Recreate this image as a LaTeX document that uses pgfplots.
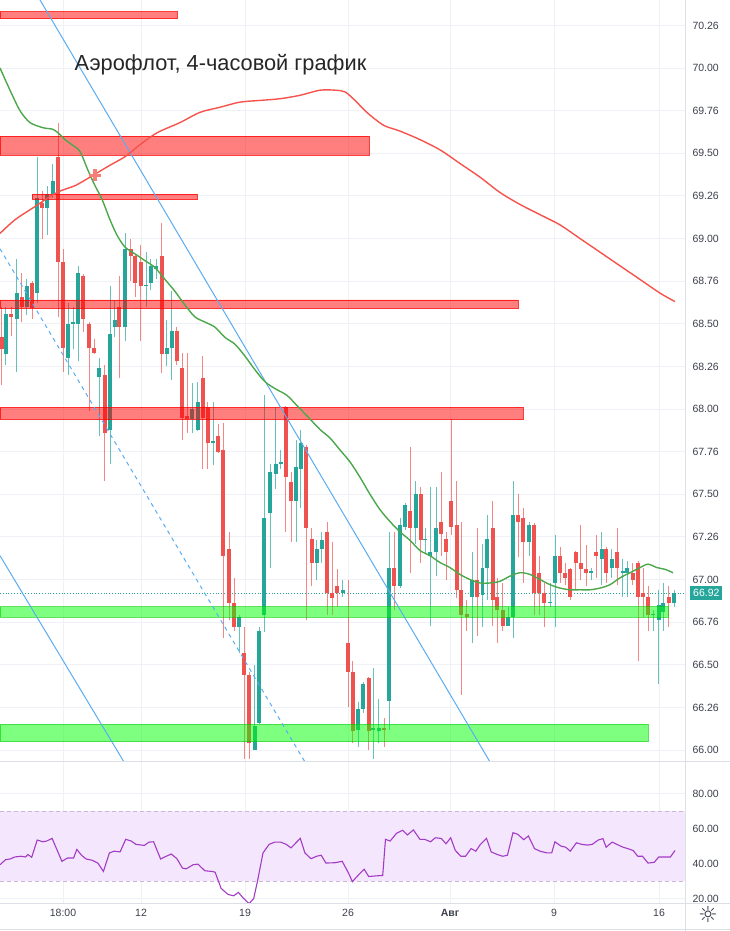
\documentclass[border=0pt]{standalone}
\usepackage{pgfplots}
\pgfplotsset{compat=1.18}
\usepackage{pgfplotstable}
\usepackage{fontspec}
\setmainfont{Liberation Sans}
\newfontfamily\symfont{DejaVu Sans}

\definecolor{upc}{HTML}{26A69A}
\definecolor{dnc}{HTML}{EF5350}
\definecolor{gridc}{HTML}{EEF1F6}
\definecolor{labc}{HTML}{3B3F4A}
\definecolor{sepc}{HTML}{DCDFE6}
\definecolor{blc}{HTML}{5AACF2}
\definecolor{mag}{HTML}{4CA84A}
\definecolor{mar}{HTML}{F5534B}
\definecolor{rsic}{HTML}{A33CC4}
\definecolor{rsib}{HTML}{F3E6FD}
\definecolor{rsid}{HTML}{C9B6D8}

% 4h candles, x = pixel column of the candle
\pgfplotstableread{
x o h l c
5.7 68.32 68.60 68.26 68.56
16.7 68.53 68.88 68.22 68.68
26.7 68.60 68.76 68.55 68.72
37.3 68.68 69.48 68.62 69.24
47.3 69.18 69.31 69.02 69.26
52.7 69.26 69.44 69.24 69.34
68.3 68.30 68.62 68.20 68.50
73.3 68.50 68.60 68.35 68.51
78.3 68.50 68.84 68.28 68.80
99.0 68.19 68.30 67.84 68.24
110.0 67.88 68.72 67.68 68.44
114.7 68.48 68.64 68.42 68.52
125.0 68.48 69.03 68.40 68.94
146.0 68.72 68.92 68.60 68.73
150.7 68.74 68.88 68.70 68.84
156.0 68.82 68.88 68.76 68.84
166.7 68.32 68.52 68.25 68.36
171.7 68.36 68.69 68.17 68.46
192.3 67.94 68.15 67.86 68.00
197.7 67.88 68.16 67.87 68.04
213.3 67.80 68.04 67.67 67.81
239.3 66.72 66.79 66.57 66.78
254.7 66.00 66.50 66.00 66.14
259.3 66.16 66.72 66.15 66.70
264.3 66.79 68.08 66.69 67.36
270.0 67.39 67.68 67.07 67.63
275.7 67.62 68.01 67.53 67.68
280.7 67.68 67.76 67.65 67.69
296.0 67.46 67.82 67.22 67.66
300.7 67.65 67.88 67.42 67.80
316.7 67.10 67.23 67.00 67.18
321.7 67.18 67.28 67.10 67.23
342.7 66.92 67.00 66.90 66.94
358.3 66.12 66.28 66.02 66.24
363.3 66.24 66.40 66.22 66.39
373.3 66.12 66.48 65.95 66.13
378.7 66.11 66.30 66.04 66.13
389.3 66.29 67.28 66.12 67.07
400.0 66.96 67.36 66.95 67.32
405.3 67.31 67.45 67.29 67.44
415.7 67.30 67.58 67.21 67.50
425.3 67.23 67.30 67.15 67.24
430.3 67.14 67.54 66.73 67.16
436.0 67.16 67.54 67.02 67.30
472.3 66.90 67.16 66.63 67.00
482.5 66.91 67.21 66.72 67.07
487.3 67.07 67.38 66.88 67.24
508.3 66.73 66.84 66.73 66.78
513.3 66.78 67.58 66.66 67.38
529.0 67.22 67.34 67.14 67.32
550.0 66.86 66.98 66.84 66.87
555.0 66.98 67.26 66.72 67.14
591.0 67.04 67.07 67.00 67.05
601.7 67.12 67.28 66.97 67.18
611.7 67.07 67.18 67.01 67.12
622.7 67.04 67.12 66.90 67.05
627.3 67.04 67.11 66.90 67.07
653.3 66.79 66.82 66.70 66.80
658.7 66.76 66.94 66.39 66.85
663.3 66.81 66.98 66.70 66.86
674.0 66.86 66.94 66.84 66.92
}\candUp

\pgfplotstableread{
x o h l c
1.7 68.42 68.60 68.14 68.35
11.0 68.56 68.60 68.43 68.54
21.7 68.66 68.80 68.51 68.60
32.0 68.74 68.75 68.53 68.59
42.3 69.21 69.28 69.00 69.18
58.3 69.48 69.68 68.54 68.86
63.0 68.86 68.94 68.22 68.36
83.3 68.78 68.79 68.45 68.53
89.0 68.50 68.51 67.99 68.36
94.3 68.36 68.41 68.32 68.33
104.7 68.20 68.26 67.58 67.86
119.3 68.60 68.78 68.18 68.48
130.7 68.94 69.00 68.75 68.90
135.0 68.90 68.91 68.66 68.74
140.7 68.86 68.96 68.40 68.72
161.7 68.90 69.09 68.21 68.32
176.7 68.46 68.48 68.26 68.28
182.0 68.24 68.33 67.82 67.95
187.0 67.96 68.33 67.86 67.94
202.7 68.18 68.31 67.65 67.95
207.7 68.01 68.04 67.65 67.80
218.3 67.84 67.91 67.74 67.75
223.3 67.76 67.92 66.66 67.14
229.0 67.18 67.28 66.76 66.86
234.0 66.86 67.01 66.70 66.72
244.0 66.57 66.72 65.95 66.44
249.3 66.44 66.46 65.95 66.04
285.7 68.01 68.02 67.28 67.60
291.0 67.57 67.63 67.22 67.46
306.0 67.78 67.79 66.76 67.30
311.7 67.24 67.30 66.96 67.10
327.3 67.28 67.34 66.79 66.92
332.3 66.92 67.22 66.79 66.89
337.3 66.96 67.06 66.84 66.92
348.0 66.63 67.00 66.25 66.46
352.7 66.46 66.52 66.04 66.11
368.7 66.42 66.43 66.00 66.11
384.0 66.13 66.19 66.02 66.12
394.0 67.07 67.28 66.82 66.96
410.0 67.40 67.78 67.04 67.30
420.7 67.50 67.54 67.10 67.23
441.3 67.34 67.63 67.14 67.27
446.0 67.24 67.28 67.00 67.16
451.3 67.46 67.94 67.26 67.31
456.7 67.32 67.58 66.89 66.94
461.3 66.94 67.34 66.32 66.79
466.7 66.80 66.88 66.70 66.78
477.3 67.00 67.30 66.67 66.90
492.7 67.30 67.46 66.73 66.88
497.3 66.90 67.01 66.63 66.82
502.7 66.82 66.98 66.70 66.73
518.3 67.38 67.50 67.13 67.34
523.3 67.36 67.42 66.98 67.22
534.0 67.32 67.33 66.79 66.92
539.3 67.04 67.14 66.79 66.92
544.3 66.92 66.98 66.72 66.86
560.0 67.14 67.19 66.98 67.04
565.3 67.04 67.10 66.97 67.01
570.0 67.06 67.07 66.88 66.90
575.7 67.16 67.17 66.94 67.10
580.7 67.10 67.32 67.00 67.06
586.0 67.06 67.20 66.96 67.04
596.0 67.16 67.26 67.01 67.14
606.0 67.18 67.19 66.98 67.04
617.3 67.16 67.30 66.97 67.07
632.7 67.04 67.10 66.97 67.00
638.3 67.10 67.11 66.52 66.90
643.3 66.92 67.07 66.78 66.90
648.3 66.90 66.96 66.70 66.79
668.7 66.90 66.96 66.72 66.86
}\candDn

\pgfplotsset{
  tvaxis/.style={
    scale only axis, width=685pt, xmin=0, xmax=685,
    axis line style={draw=none}, major tick length=0pt,
    xtick={63,141,245,348,450,554,659},
    grid=major, major grid style={draw=gridc, line width=0.9pt},
    yticklabel pos=right,
    yticklabel style={anchor=west, xshift=4pt, text=labc, font=\fontsize{10.5}{12}\selectfont},
    clip=true,
  },
  wick/.style={draw=none, mark=none, forget plot,
    error bars/.cd, y dir=plus, y explicit, error mark=none,
    error bar style={draw=#1, draw opacity=0.7, line width=1pt}},
  body/.style={draw=none, mark=none, forget plot,
    error bars/.cd, y dir=plus, y explicit, error mark=none,
    error bar style={draw=#1, line width=3.8pt, line cap=butt}},
}

\begin{document}
\begin{tikzpicture}
\useasboundingbox (0pt,0pt) rectangle (730pt,931pt);

% ---------- price panel ----------
\begin{axis}[tvaxis,
  at={(0pt,169pt)}, anchor=south west, height=762pt,
  ymin=65.93, ymax=70.399,
  xticklabels={},
  ytick={66,66.25,66.5,66.75,67,67.25,67.5,67.75,68,68.25,68.5,68.75,69,69.25,69.5,69.75,70,70.25},
  yticklabels={66.00,66.26,66.50,66.76,67.00,67.26,67.50,67.76,68.00,68.26,68.50,68.76,69.00,69.26,69.50,69.76,70.00,70.26},
]
% current price
\addplot[upc, dotted, line width=0.8pt, forget plot] coordinates {(0,66.92) (685,66.92)};

% candles
\addplot[wick=upc] table[x=x, y=l, y error expr=\thisrow{h}-\thisrow{l}] {\candUp};
\addplot[wick=dnc] table[x=x, y=l, y error expr=\thisrow{h}-\thisrow{l}] {\candDn};
\addplot[body=upc] table[x=x, y=o, y error expr=\thisrow{c}-\thisrow{o}] {\candUp};
\addplot[body=dnc] table[x=x, y=c, y error expr=\thisrow{o}-\thisrow{c}] {\candDn};

% resistance / support zones
\filldraw[fill=red, fill opacity=0.5, draw=red, draw opacity=0.75, line width=0.8pt]
  (axis cs:0,70.29) rectangle (axis cs:177,70.33)
  (axis cs:0,69.49) rectangle (axis cs:369,69.60)
  (axis cs:32,69.23) rectangle (axis cs:197,69.26)
  (axis cs:0,68.59) rectangle (axis cs:518,68.64)
  (axis cs:0,67.94) rectangle (axis cs:523,68.01);
\filldraw[fill=green, fill opacity=0.5, draw=green!80!black, draw opacity=0.6, line width=0.8pt]
  (axis cs:0,66.78) rectangle (axis cs:668,66.84)
  (axis cs:0,66.05) rectangle (axis cs:648,66.15);

% trend channel
\addplot[blc, line width=1pt] coordinates {(40,70.399) (490,65.93)};
\addplot[blc, line width=1pt] coordinates {(0,67.14) (124,65.93)};
\addplot[blc, line width=1pt, dash pattern=on 4pt off 4pt] coordinates {(0,68.94) (305,65.93)};

% long moving average
\addplot[mar, line width=1.4pt, smooth] coordinates {
(0,69.03) (15,69.11) (33,69.18) (57,69.27) (75,69.31) (90,69.36) (110,69.43)
(125,69.48) (140,69.55) (157,69.62) (180,69.68) (200,69.74) (220,69.77)
(240,69.80) (260,69.81) (280,69.82) (300,69.84) (320,69.87) (335,69.87)
(345,69.86) (355,69.81) (365,69.75) (375,69.70) (385,69.66) (400,69.63)
(420,69.58) (440,69.52) (460,69.44) (480,69.36) (500,69.27) (520,69.20)
(540,69.14) (560,69.08) (580,69.00) (600,68.92) (620,68.84) (640,68.76)
(660,68.68) (675,68.63)};
\addplot[only marks, mark=+, mark size=6pt, mark options={draw=mar!75, line width=3.5pt}]
  coordinates {(95,69.37)};

% short moving average
\addplot[mag, line width=1.4pt, smooth] coordinates {
(0,70.00) (10,69.87) (20,69.75) (30,69.68) (43,69.65) (53,69.64) (60,69.61)
(65,69.58) (72,69.55) (80,69.51) (88,69.40) (95,69.31) (102,69.23) (110,69.11)
(117,69.02) (125,68.95) (135,68.91) (145,68.87) (155,68.83) (165,68.76)
(175,68.69) (185,68.61) (195,68.54) (205,68.51) (215,68.48) (225,68.42)
(235,68.38) (245,68.31) (255,68.23) (265,68.16) (275,68.12) (287,68.08)
(297,68.02) (307,67.96) (320,67.88) (330,67.83) (340,67.76) (350,67.69)
(360,67.60) (370,67.50) (380,67.41) (390,67.34) (400,67.28) (410,67.23)
(420,67.17) (430,67.14) (440,67.10) (450,67.07) (460,67.03) (470,67.00)
(480,66.98) (490,66.98) (500,66.99) (510,67.02) (520,67.04) (530,67.03)
(540,67.00) (550,66.97) (560,66.95) (570,66.94) (580,66.94) (590,66.94)
(600,66.95) (610,66.97) (620,67.01) (630,67.04) (640,67.07) (648,67.09)
(657,67.07) (665,67.06) (673,67.04)};
\end{axis}

% ---------- RSI panel ----------
\begin{axis}[tvaxis,
  at={(0pt,27pt)}, anchor=south west, height=142pt,
  ymin=16.85, ymax=98.2,
  ytick={20,40,60,80}, yticklabels={20.00,40.00,60.00,80.00},
  xticklabels={18:00,12,19,26,\textbf{Авг},9,16},
  xticklabel style={text=labc, font=\fontsize{10.5}{12}\selectfont, yshift=-1.5pt},
]
\fill[rsib] (axis cs:0,30) rectangle (axis cs:685,70);
\addplot[rsid, line width=0.8pt, dash pattern=on 4pt off 3pt, forget plot] coordinates {(0,70) (685,70)};
\addplot[rsid, line width=0.8pt, dash pattern=on 4pt off 3pt, forget plot] coordinates {(0,30) (685,30)};
\addplot[rsic, line width=1.1pt] coordinates {
(0,39.35) (5.6,42.26) (10.2,42.65) (14.9,43.8) (20.9,44.2) (25.6,43.8) (27.9,45.2)
(31.7,43.6) (37.2,53.5) (42.8,52.5) (46.6,52.9) (52.1,54.45) (61.9,41.3)
(67.5,43.2) (73.6,43.2) (76.8,48.1) (81.5,44.8) (86.1,42.65) (92.2,41.9)
(97.8,40.3) (103.4,35.5) (109.4,46.1) (114.1,47.1) (120.1,46.7) (125.7,53.9)
(131.3,52.9) (135.9,51.0) (144.3,50.4) (149,52.3) (153.6,52.5) (160.6,42.6)
(166.2,44.2) (171.3,45.5) (176.9,42.8) (182.5,37.4) (186.2,37.0) (193.2,39.35)
(197.9,39.7) (204.8,35.9) (211.8,35.5) (215.1,35.1) (221.1,25.8) (228.1,22.3)
(233.7,21.55) (238.4,23.5) (243,20.4) (249.1,17.1) (253.7,20.0) (257.4,29.7)
(263,46.1) (269.1,51.0) (274.7,52.3) (280.7,52.3) (286.3,51.0) (291,49.0)
(300.3,54.45) (304.9,46.1) (311,42.8) (316.6,44.2) (321.2,44.8) (325.9,40.3)
(335.2,40.5) (342.2,41.3) (348.2,34.9) (352.4,29.7) (358.5,33.5) (364.1,36.8)
(368.7,32.6) (377.1,33.0) (382.7,33.2) (385.5,53.9) (390.1,52.9) (396.6,57.4)
(402.7,59.1) (407.4,56.4) (413.4,59.3) (419.9,53.9) (424.6,53.9) (430.6,52.5)
(435.3,54.8) (441.3,54.4) (446,51.35) (450.7,54.8) (455.3,47.5) (460.9,44.2)
(465.5,44.2) (471.1,48.6) (475.8,47.1) (480.4,51.0) (486.5,54.45) (491.2,46.7)
(497.2,45.2) (502.8,44.2) (507.4,44.8) (513,57.7) (517.7,56.8) (523.7,53.7)
(528.4,55.8) (534.5,48.6) (540,47.1) (547,46.1) (551.7,46.1) (554.9,52.5)
(561,50.0) (565.6,49.4) (570.3,47.1) (576.4,51.9) (581.9,51.0) (587.5,50.6)
(592.2,51.0) (598.2,53.5) (602.9,54.3) (606.1,49.4) (612.2,52.3) (616.9,51.0)
(622.9,49.4) (627.6,48.6) (633.1,47.5) (637.8,44.2) (642.5,44.2) (648,40.3)
(654.1,40.7) (658.8,43.8) (665.7,43.8) (670.4,43.8) (675,47.5)};
\end{axis}

% panel separators
\draw[sepc, line width=1pt] (685pt,0pt) -- (685pt,931pt);
\draw[sepc, line width=1pt] (0pt,169pt) -- (730pt,169pt);
\draw[sepc, line width=1pt] (0pt,27pt) -- (730pt,27pt);
\draw[sepc, line width=1pt] (0pt,1pt) -- (730pt,1pt);

% last price tag
\node[fill=upc, text=white, anchor=west, inner xsep=3pt, inner ysep=3.5pt,
  font=\fontsize{10.5}{12}\selectfont] at (690pt,338pt) {66.92};

% title
\node[anchor=west, text=black!85, font=\fontsize{21.8}{25}\selectfont] at (71pt,866pt)
  {Аэрофлот, 4-часовой график};

% settings icon
\node[text=labc, font=\symfont\fontsize{22}{24}\selectfont] at (708pt,17pt) {☼};
\end{tikzpicture}
\end{document}
